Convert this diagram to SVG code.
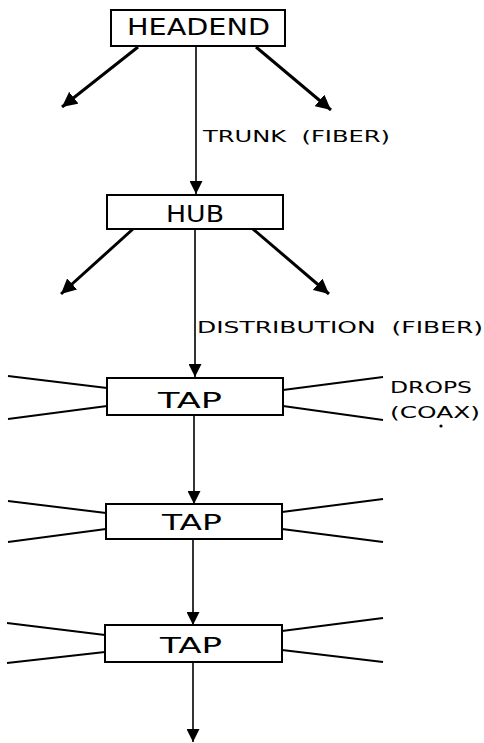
<svg xmlns="http://www.w3.org/2000/svg" width="484" height="743" viewBox="0 0 484 743">
  <style>
    .box { fill: #fff; stroke: #000; stroke-width: 2; }
    .lbl { font-family: "DejaVu Sans", sans-serif; fill: #000; }
    .big { font-size: 23px; }
    .mid { font-size: 21px; }
    .small { font-size: 15.5px; }
    .feed { stroke: #000; stroke-width: 1.6; fill: none; }
    .branch { stroke: #000; stroke-width: 3; fill: none; }
    .drop { stroke: #000; stroke-width: 2; fill: none; }
  </style>
  <defs>
    <marker id="tri" viewBox="0 0 12 12" refX="12" refY="6" markerWidth="13" markerHeight="13" markerUnits="userSpaceOnUse" orient="auto">
      <path d="M0,0 L12,6 L0,12 Z" fill="#000"/>
    </marker>
    <marker id="triB" viewBox="0 0 12 12" refX="12" refY="6" markerWidth="15" markerHeight="15" markerUnits="userSpaceOnUse" orient="auto">
      <path d="M0,0 L12,6 L0,12 Z" fill="#000"/>
    </marker>
  </defs>

  <rect width="484" height="743" fill="#fff"/>

  <!-- connectors -->
  <g id="connectors">
    <!-- trunk and distribution feeds -->
    <line class="feed" x1="196" y1="46" x2="196" y2="194" marker-end="url(#tri)"/>
    <line class="feed" x1="195" y1="229" x2="195" y2="377" marker-end="url(#tri)"/>
    <line class="feed" x1="194" y1="415" x2="194" y2="504" marker-end="url(#tri)"/>
    <line class="feed" x1="193" y1="539" x2="193" y2="625" marker-end="url(#tri)"/>
    <line class="feed" x1="193" y1="662" x2="193" y2="742" marker-end="url(#tri)"/>

    <!-- branches from headend -->
    <line class="branch" x1="138" y1="47" x2="62" y2="107" marker-end="url(#triB)"/>
    <line class="branch" x1="256" y1="47" x2="331" y2="110" marker-end="url(#triB)"/>
    <!-- branches from hub -->
    <line class="branch" x1="133" y1="229" x2="61" y2="294" marker-end="url(#triB)"/>
    <line class="branch" x1="253" y1="229" x2="329" y2="294" marker-end="url(#triB)"/>

    <!-- coax drops, tap 1 -->
    <line class="drop" x1="8" y1="376" x2="107" y2="388"/>
    <line class="drop" x1="8" y1="419" x2="107" y2="406"/>
    <line class="drop" x1="283" y1="390" x2="383" y2="377"/>
    <line class="drop" x1="283" y1="406" x2="383" y2="420"/>
    <!-- coax drops, tap 2 -->
    <line class="drop" x1="8" y1="501" x2="106" y2="513"/>
    <line class="drop" x1="8" y1="542" x2="106" y2="529"/>
    <line class="drop" x1="282" y1="512" x2="383" y2="499"/>
    <line class="drop" x1="282" y1="529" x2="383" y2="542"/>
    <!-- coax drops, tap 3 -->
    <line class="drop" x1="7" y1="623" x2="105" y2="635"/>
    <line class="drop" x1="7" y1="663" x2="105" y2="652"/>
    <line class="drop" x1="282" y1="631" x2="383" y2="618"/>
    <line class="drop" x1="282" y1="650" x2="383" y2="662"/>
  </g>

  <!-- nodes -->
  <g id="headend">
    <rect class="box" x="111" y="10" width="174" height="36"/>
    <text class="lbl big" x="127" y="35" textLength="143" lengthAdjust="spacingAndGlyphs">HEADEND</text>
  </g>
  <g id="hub">
    <rect class="box" x="107" y="195" width="176" height="34"/>
    <text class="lbl big" x="166" y="222" textLength="58" lengthAdjust="spacingAndGlyphs">HUB</text>
  </g>
  <g id="tap1">
    <rect class="box" x="107" y="378" width="176" height="37"/>
    <text class="lbl mid" x="158" y="408" textLength="64" lengthAdjust="spacingAndGlyphs">TAP</text>
  </g>
  <g id="tap2">
    <rect class="box" x="106" y="504" width="176" height="35"/>
    <text class="lbl mid" x="162" y="530" textLength="60" lengthAdjust="spacingAndGlyphs">TAP</text>
  </g>
  <g id="tap3">
    <rect class="box" x="105" y="625" width="177" height="37"/>
    <text class="lbl mid" x="160" y="653" textLength="62" lengthAdjust="spacingAndGlyphs">TAP</text>
  </g>

  <!-- link labels -->
  <g id="labels">
    <text class="lbl small" x="203" y="142" textLength="187" lengthAdjust="spacingAndGlyphs" xml:space="preserve">TRUNK  (FIBER)</text>
    <text class="lbl small" x="197" y="333" textLength="286" lengthAdjust="spacingAndGlyphs" xml:space="preserve">DISTRIBUTION  (FIBER)</text>
    <text class="lbl small" x="390" y="393" textLength="82" lengthAdjust="spacingAndGlyphs">DROPS</text>
    <text class="lbl small" x="390" y="418" textLength="90" lengthAdjust="spacingAndGlyphs">(COAX)</text>
    <circle cx="441" cy="426" r="1.6" fill="#000"/>
  </g>
</svg>
